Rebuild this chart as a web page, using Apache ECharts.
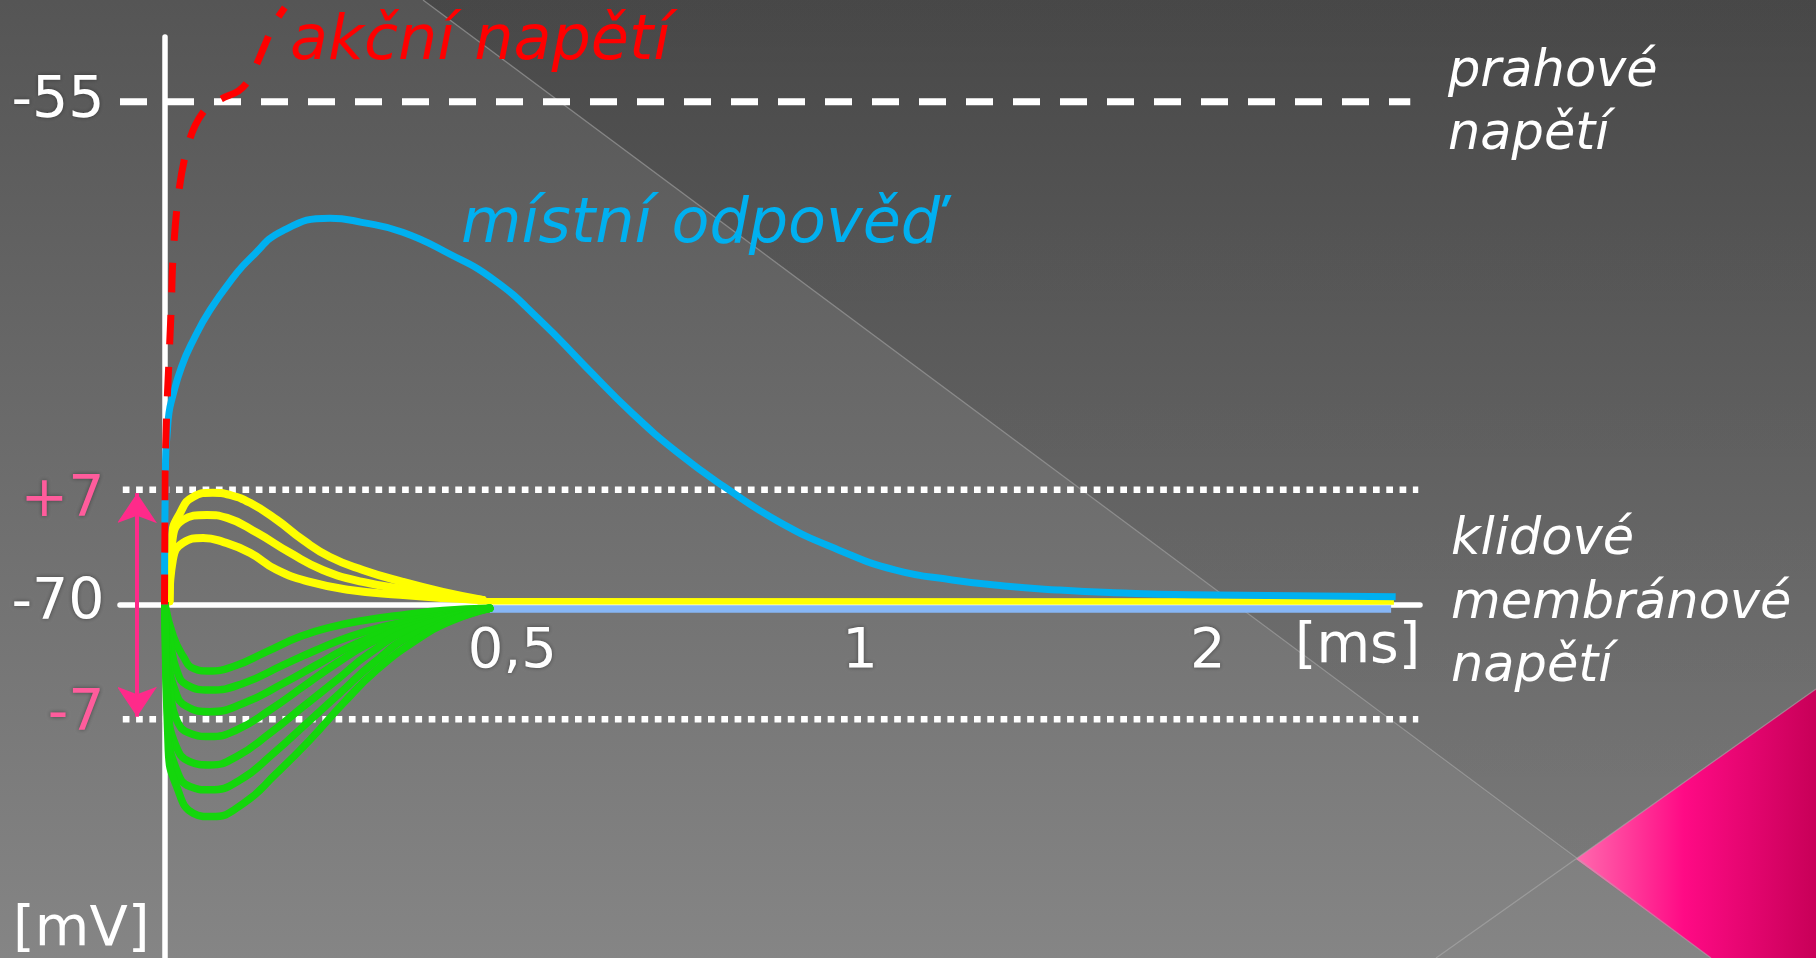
<!DOCTYPE html>
<html>
<head>
<meta charset="utf-8">
<script src="https://cdn.jsdelivr.net/npm/echarts@6/dist/echarts.min.js"></script>
<style>
  html, body { margin: 0; padding: 0; width: 1816px; height: 958px; overflow: hidden; background: #666; }
  #chart { width: 1816px; height: 958px; }
</style>
</head>
<body>
<div id="chart"></div>
<script>
// Time axis in drawing units: 1 -> 0,5 ms, 2 -> 1 ms, 3 -> 2 ms (schematic, not to scale)
const xTickValues = [1, 2, 3];
const xTickLabels = ['0,5', '1', '2'];

// Voltage axis in drawing units: 0 = resting potential (-70 mV), the ±7 mV band is to scale,
// the threshold (-55 mV) is drawn higher up for clarity
const yTickValues = [30.65, 7, 0, -7];
const yTickLabels = ['-55', '+7', '-70', '-7'];

// reference levels
const thresholdLine = [[-0.128, 30.65], [3.582, 30.65]];
const upperBandLine = [[-0.12, 7], [3.605, 7]];
const lowerBandLine = [[-0.12, -7], [3.605, -7]];
const toleranceArrow = [[-0.079, 6.79], [-0.079, -6.84]];

// akční napětí – rising phase crossing the threshold
const actionPotential = [
  [0, 0], [0.002, 8], [0.006, 11.5], [0.013, 15], [0.02, 18.5], [0.024, 21], [0.039, 24.8],
  [0.06, 27.4], [0.088, 29.2], [0.125, 30.36], [0.165, 30.85], [0.212, 31.3], [0.24, 31.9],
  [0.262, 32.8], [0.29, 34.2], [0.315, 35.4], [0.346, 36.4]
];

// místní odpověď – subthreshold local response
const localResponse = [
  [0, 0], [0.003, 8.8], [0.008, 10.5], [0.013, 11.7], [0.021, 12.5], [0.049, 14.5],
  [0.083, 16.13], [0.131, 17.96], [0.2, 20.0], [0.246, 21.1], [0.341, 22.8], [0.476, 23.55],
  [0.567, 23.3], [0.685, 22.7], [0.817, 21.4], [0.947, 19.8], [1.079, 17.35], [1.211, 14.5],
  [1.343, 11.7], [1.476, 9.25], [1.608, 7.2], [1.772, 4.98], [1.938, 3.33], [2.102, 2.1],
  [2.265, 1.5], [2.415, 1.13], [2.567, 0.89], [2.718, 0.73], [2.95, 0.59], [3.54, 0.48]
];

// small depolarizing responses
const depolarizing = [
  [[0.014, 0.2], [0.021, 4.14], [0.045, 5.59], [0.082, 6.56], [0.139, 6.82], [0.188, 6.68], [0.246, 6.2],
   [0.323, 5.16], [0.398, 3.94], [0.476, 2.9], [0.57, 2.11], [0.685, 1.38], [0.8, 0.77], [0.915, 0.28]],
  [[0.014, 0.2], [0.021, 3.53], [0.053, 5.16], [0.122, 5.46], [0.18, 5.28], [0.266, 4.37], [0.361, 3.15],
   [0.455, 2.11], [0.57, 1.38], [0.705, 0.89], [0.82, 0.46], [0.915, 0.28]],
  [[0.014, 0.2], [0.024, 2.72], [0.053, 3.76], [0.111, 4.06], [0.168, 3.82], [0.246, 3.15], [0.323, 2.11],
   [0.418, 1.38], [0.533, 0.89], [0.677, 0.59], [0.8, 0.4], [0.915, 0.28]]
];
const depolarizingTail = [[0.9, 0.2], [3.535, 0.18]];

// hyperpolarizing responses
const hyperpolarizing = [
  [[0.0014, 0], [0.0254, -1.95], [0.054, -3.17], [0.083, -3.89], [0.126, -4.05], [0.198, -3.78], [0.294, -2.87],
   [0.39, -1.95], [0.485, -1.35], [0.581, -0.94], [0.686, -0.63], [0.801, -0.37], [0.935, -0.23]],
  [[0.0014, 0], [0.016, -2.16], [0.035, -4.0], [0.064, -4.9], [0.131, -5.21], [0.227, -4.8], [0.342, -3.68],
   [0.437, -2.77], [0.533, -1.95], [0.629, -1.35], [0.744, -0.84], [0.935, -0.23]],
  [[0.0014, 0], [0.011, -3.17], [0.03, -5.21], [0.064, -6.22], [0.131, -6.53], [0.227, -6.02], [0.342, -4.8],
   [0.437, -3.68], [0.533, -2.57], [0.648, -1.55], [0.772, -0.84], [0.935, -0.23]],
  [[0.0014, 0], [0.0062, -3.17], [0.016, -5.21], [0.035, -7.04], [0.073, -7.85], [0.131, -8.05], [0.207, -7.65],
   [0.303, -6.43], [0.399, -5.0], [0.495, -3.58], [0.59, -2.36], [0.705, -1.35], [0.935, -0.23]],
  [[0.0014, 0], [0.011, -6.22], [0.03, -8.46], [0.073, -9.58], [0.131, -9.78], [0.207, -9.27], [0.303, -7.85],
   [0.399, -6.22], [0.495, -4.6], [0.59, -2.97], [0.705, -1.55], [0.935, -0.23]],
  [[0.0014, 0], [0.011, -7.65], [0.035, -10.09], [0.073, -11.1], [0.131, -11.3], [0.217, -10.7], [0.313, -9.07],
   [0.409, -7.24], [0.504, -5.41], [0.6, -3.58], [0.715, -1.85], [0.935, -0.23]],
  [[0.0014, 0], [0.011, -8.87], [0.035, -11.1], [0.083, -12.73], [0.136, -12.93], [0.227, -12.12], [0.322, -10.29],
   [0.418, -8.26], [0.514, -6.02], [0.61, -3.99], [0.725, -2.16], [0.82, -1.04], [0.935, -0.23]]
];
const hyperpolarizingTail = [[0.935, -0.27], [3.527, -0.27]];

const FONT = '"DejaVu Sans", "Noto Sans", sans-serif';
const WHITE = '#ffffff';
const PINK = '#ff2a8a';
const PINK_TEXT = '#ff5c9c';

// axis placement: grid spans 120..1420 x 37..958; the zero lines sit inside it
const X_MIN = -0.128, X_MAX = 3.61, Y_MIN = -21.55, Y_MAX = 34.6;
const GRID = { left: 120, right: 396, top: 37, bottom: 0 };
const gridW = 1816 - GRID.left - GRID.right, gridH = 958 - GRID.top - GRID.bottom;
const yAxisShift = (0 - X_MIN) / (X_MAX - X_MIN) * gridW;   // px from grid left to x = 0
const xAxisShift = (0 - Y_MIN) / (Y_MAX - Y_MIN) * gridH;   // px from grid bottom to y = 0

function curve(data, color, width, z, extra) {
  return Object.assign({
    type: 'line', data: data, symbol: 'none', showSymbol: false,
    smooth: 0.5, silent: true, z: z,
    lineStyle: { color: color, width: width, cap: 'round', join: 'round' }
  }, extra || {});
}
function refLine(data, dash, width) {
  return {
    type: 'line', data: data, symbol: 'none', showSymbol: false, silent: true, z: 1,
    lineStyle: { color: WHITE, width: width, type: dash, cap: 'butt' }
  };
}
function findIndex(list, v) {
  for (let i = 0; i < list.length; i++) if (Math.abs(list[i] - v) < 1e-6) return i;
  return -1;
}

const series = [
  refLine(thresholdLine, [27, 20], 7),
  refLine(upperBandLine, [6.7, 6.6], 6.5),
  refLine(lowerBandLine, [6.7, 6.6], 6.5),
  curve(hyperpolarizingTail, '#86b6f6', 7.5, 2, { smooth: false, lineStyle: { color: '#86b6f6', width: 7.5, cap: 'butt' } }),
  curve(depolarizingTail, '#ffff00', 6.5, 3, { smooth: false, lineStyle: { color: '#ffff00', width: 6.5, cap: 'butt' } })
];
depolarizing.forEach(d => series.push(curve(d, '#ffff00', 8, 3)));
hyperpolarizing.forEach(d => series.push(curve(d, '#14d60c', 7.5, 4)));
series.push(curve(localResponse, '#00b0f0', 7, 5, { lineStyle: { color: '#00b0f0', width: 7, cap: 'butt', join: 'round' } }));
series.push(curve(actionPotential, '#ff0000', 7, 6, {
  smooth: 0.35, clip: false,
  lineStyle: { color: '#ff0000', width: 7, type: [30, 22], cap: 'butt' }
}));
series.push({
  type: 'lines', coordinateSystem: 'cartesian2d', silent: true, z: 3,
  data: [{ coords: toleranceArrow }],
  symbol: ['arrow', 'arrow'], symbolSize: 30,
  lineStyle: { color: PINK, width: 4, opacity: 1, curveness: 0 }
});

const textShadow = { shadowColor: 'rgba(30,30,30,0.55)', shadowBlur: 4 };
function label(text, x, y, font, fill, extra) {
  return {
    type: 'text', x: x, y: y, z: 100, silent: true,
    style: Object.assign({ text: text, font: font, fill: fill, align: 'left', verticalAlign: 'middle' }, textShadow, extra || {})
  };
}
const tickFont = { fontFamily: FONT, fontSize: 57 };

const chart = echarts.init(document.getElementById('chart'), null, { renderer: 'canvas' });
chart.setOption({
  animation: false,
  backgroundColor: {
    type: 'linear', x: 0, y: 0, x2: 0, y2: 1,
    colorStops: [{ offset: 0, color: '#555555' }, { offset: 1, color: '#858585' }]
  },
  grid: Object.assign({ containLabel: false, outerBoundsMode: 'none' }, GRID),
  xAxis: {
    type: 'value', min: X_MIN, max: X_MAX, position: 'bottom', offset: -xAxisShift,
    axisLine: { show: true, onZero: false, lineStyle: { color: WHITE, width: 5.5 } },
    axisTick: { show: false }, splitLine: { show: false },
    axisLabel: {
      customValues: xTickValues,
      formatter: v => { const i = findIndex(xTickValues, v); return i < 0 ? '' : xTickLabels[i]; },
      color: WHITE, fontFamily: FONT, fontSize: 56, margin: 20,
      textShadowColor: 'rgba(30,30,30,0.55)', textShadowBlur: 4
    }
  },
  yAxis: {
    type: 'value', min: Y_MIN, max: Y_MAX, position: 'left', offset: -yAxisShift,
    axisLine: { show: true, onZero: false, lineStyle: { color: WHITE, width: 5.5 } },
    axisTick: { show: false }, splitLine: { show: false },
    axisLabel: {
      customValues: yTickValues,
      formatter: v => {
        const i = findIndex(yTickValues, v);
        if (i < 0) return '';
        const t = yTickLabels[i];
        if (t === '+7') return '{up|' + t + '}';
        if (t === '-7') return '{down|' + t + '}';
        return '{w|' + t + '}';
      },
      color: WHITE, fontFamily: FONT, fontSize: 57, margin: 60,
      textShadowColor: 'rgba(30,30,30,0.55)', textShadowBlur: 4,
      rich: {
        w: Object.assign({ color: WHITE }, tickFont),
        up: Object.assign({ color: PINK_TEXT, padding: [22, 0, 0, 0] }, tickFont),
        down: Object.assign({ color: PINK_TEXT, padding: [0, 0, 8, 0] }, tickFont)
      }
    }
  },
  graphic: [
    // darker diagonal panel in the upper right
    {
      type: 'polygon', z: -10, silent: true,
      shape: { points: [[423, 0], [1816, 0], [1816, 689], [1576, 859]] },
      style: {
        fill: {
          type: 'linear', x: 0, y: 0, x2: 0, y2: 1,
          colorStops: [{ offset: 0, color: 'rgba(0,0,0,0.16)' }, { offset: 1, color: 'rgba(0,0,0,0.06)' }]
        }
      }
    },
    {
      type: 'polygon', z: -9, silent: true,
      shape: { points: [[1576, 859], [1816, 689], [1816, 958], [1711, 958]] },
      style: {
        fill: {
          type: 'linear', x: 0, y: 0, x2: 1, y2: 0,
          colorStops: [{ offset: 0, color: '#ff6aae' }, { offset: 0.45, color: '#ff0a85' }, { offset: 1, color: '#c80058' }]
        }
      }
    },
    { type: 'line', z: -8, silent: true, shape: { x1: 423, y1: 0, x2: 1711, y2: 958 }, style: { stroke: 'rgba(175,175,175,0.55)', lineWidth: 1.3 } },
    { type: 'line', z: -8, silent: true, shape: { x1: 1436, y1: 958, x2: 1816, y2: 689 }, style: { stroke: 'rgba(175,175,175,0.55)', lineWidth: 1.3 } },

    label('akční napětí', 290, 43, 'italic 62px ' + FONT, '#ff0000'),
    label('místní odpověď', 461, 226, 'italic 62px ' + FONT, '#00b0f0'),
    label('prahové\nnapětí', 1448, 41, 'italic 51px ' + FONT, WHITE, { verticalAlign: 'top', lineHeight: 63.4 }),
    label('klidové\nmembránové\nnapětí', 1451, 509, 'italic 51px ' + FONT, WHITE, { verticalAlign: 'top', lineHeight: 63.5 }),
    label('[mV]', 13, 930, '56px ' + FONT, WHITE),
    label('[ms]', 1295, 648, '55px ' + FONT, WHITE)
  ],
  series: series
});
</script>
</body>
</html>
